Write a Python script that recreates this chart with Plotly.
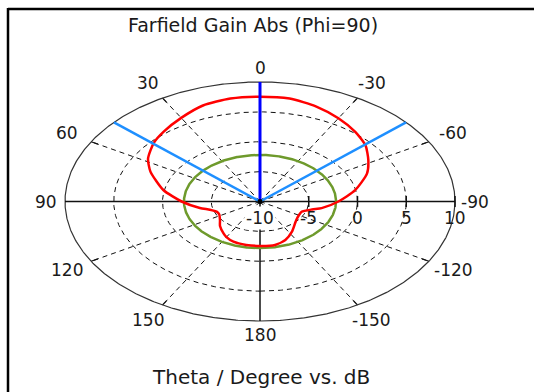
import numpy as np
import plotly.graph_objects as go

# ---- chart text ----
title_text = "Farfield Gain Abs (Phi=90)"
axis_caption = "Theta / Degree vs. dB"

# ---- scales ----
r_min, r_max = -10, 10                      # radial range in dB (centre = -10 dB)
ring_values = [-5, 0, 5]                    # dashed grid rings
radial_labels = [-10, -5, 0, 5, 10]         # labels along the theta = -90 axis
angle_ticks = [0, 30, 60, 90, 120, 150, 180, -150, -120, -90, -60, -30]
angle_labels = ["0", "30", "60", "90", "120", "150", "180",
                "-150", "-120", "-90", "-60", "-30"]

# ---- farfield gain cut, theta in degrees, gain in dB ----
theta = [-180, -168, -158, -147, -135, -127, -120, -112, -104, -100, -90,
         -79, -67, -58, -49, -40, -30, -20, -10, 0, 10, 20, 30, 40, 48,
         58, 66, 79, 90, 100, 105, 111, 117, 127, 135, 145, 150, 158, 169, 180]
gain_db = [-2.56, -2.56, -3.06, -3.98, -4.9, -5.25, -5.4, -5.4, -4.5, -3.58, -1.96,
           -0.06, 1.92, 3.1, 4.34, 5.2, 6.08, 6.9, 7.5, 7.55, 7.5, 7.1, 6.16, 5.32, 4.66,
           3.54, 2.3, 0.1, -1.96, -3.74, -4.68, -5.24, -5.3, -4.86, -4.2, -3.48, -3.12,
           -2.74, -2.6, -2.56]

main_lobe_direction = 0          # deg
beamwidth_edges = [48.5, -48.5]  # 3 dB angular width markers, deg
sidelobe_level_db = -2.2         # reference circle

# ---- geometry of the (elliptical) polar frame in pixels ----
W, H = 534, 392
cx, cy = 260, 201.5
rx, ry = 195, 119.5


def to_xy(th_deg, g_db):
    th = np.radians(np.asarray(th_deg, dtype=float))
    u = (np.asarray(g_db, dtype=float) - r_min) / (r_max - r_min)
    return -u * np.sin(th), u * np.cos(th)


fig = go.Figure()
full = np.linspace(-180, 180, 721)
grid_col = "#111111"


def add_line(x, y, color, width, dash="solid", shape="linear"):
    fig.add_trace(go.Scatter(x=x, y=y, mode="lines", hoverinfo="skip",
                             line=dict(color=color, width=width, dash=dash,
                                       shape=shape, smoothing=0.6)))


# dashed rings
for v in ring_values:
    x, y = to_xy(full, np.full_like(full, v))
    add_line(x, y, grid_col, 1, dash="5px,4px")

# dashed spokes
for a in angle_ticks:
    if a % 90 == 0:
        continue
    x, y = to_xy([a, a], [r_min, r_max])
    add_line(x, y, grid_col, 1, dash="5px,4px")
    # short solid tick on the outer frame
    x, y = to_xy([a, a], [r_max - 0.8, r_max])
    add_line(x, y, grid_col, 1.2)

# outer frame
x, y = to_xy(full, np.full_like(full, r_max))
add_line(x, y, "#333333", 1.2)

# solid axes: 90 <-> -90 and centre -> 180
x, y = to_xy([90, -90], [r_max, r_max])
add_line(x, y, grid_col, 1.5)
x, y = to_xy([180, 180], [r_min, r_max])
add_line(x, y, grid_col, 1.5)

# ticks on the radial axis
for v in radial_labels[1:]:
    x, y = to_xy([-90], [v])
    add_line([x[0], x[0]], [-0.045, 0.045], grid_col, 1.5)

# side lobe level circle
x, y = to_xy(full, np.full_like(full, sidelobe_level_db))
add_line(x, y, "#6e9a2c", 2.5)

# gain pattern
x, y = to_xy(theta, gain_db)
add_line(x, y, "#ff0000", 2.5, shape="spline")

# angular width markers
for a in beamwidth_edges:
    x, y = to_xy([a, a], [r_min, r_max])
    add_line(x, y, "#1e8fff", 2.5)

# main lobe direction
x, y = to_xy([main_lobe_direction] * 2, [r_min, r_max])
add_line(x, y, "#0000ff", 3)

# centre dot
fig.add_trace(go.Scatter(x=[0], y=[0], mode="markers", hoverinfo="skip",
                         marker=dict(color="#000000", size=5)))

tick_font = dict(family="DejaVu Sans", size=17, color="#1a1a1a")
title_font = dict(family="DejaVu Sans", size=19, color="#1a1a1a")
caption_font = dict(family="DejaVu Sans", size=20, color="#1a1a1a")

# angle labels around the frame
for a, lab in zip(angle_ticks, angle_labels):
    rr = 1.145
    if a in (0, 180):
        rr = 1.115
    if a in (90, -90):
        rr = 1.1
    th = np.radians(a)
    fig.add_annotation(x=-rr * np.sin(th), y=rr * np.cos(th), text=lab,
                       showarrow=False, font=tick_font,
                       xanchor="center", yanchor="middle")

# radial labels under the -90 axis
for v in radial_labels:
    x, y = to_xy([-90], [v])
    fig.add_annotation(x=x[0], y=-0.14, text=str(v), showarrow=False, font=tick_font,
                       xanchor="center", yanchor="middle",
                       bgcolor="#ffffff" if v == r_min else None)

# title and caption
fig.add_annotation(x=253 / W, y=1 - 25 / H, xref="paper", yref="paper",
                   text=title_text, showarrow=False, font=title_font,
                   xanchor="center", yanchor="middle")
fig.add_annotation(x=261 / W, y=1 - 377 / H, xref="paper", yref="paper",
                   text=axis_caption, showarrow=False, font=caption_font,
                   xanchor="center", yanchor="middle")

# frame border (top and left edges)
fig.add_shape(type="line", xref="paper", yref="paper", x0=8 / W, x1=1.01,
              y0=1 - 9 / H, y1=1 - 9 / H, line=dict(color="#000000", width=2.5))
fig.add_shape(type="line", xref="paper", yref="paper", x0=8 / W, x1=8 / W,
              y0=1 - 8 / H, y1=-0.01, line=dict(color="#000000", width=2.5))

fig.update_xaxes(range=[-cx / rx, (W - cx) / rx], visible=False, fixedrange=True)
fig.update_yaxes(range=[(cy - H) / ry, cy / ry], visible=False, fixedrange=True)
fig.update_layout(width=W, height=H, margin=dict(l=0, r=0, t=0, b=0),
                  paper_bgcolor="#ffffff", plot_bgcolor="#ffffff",
                  showlegend=False)

fig.write_html("out.html")
